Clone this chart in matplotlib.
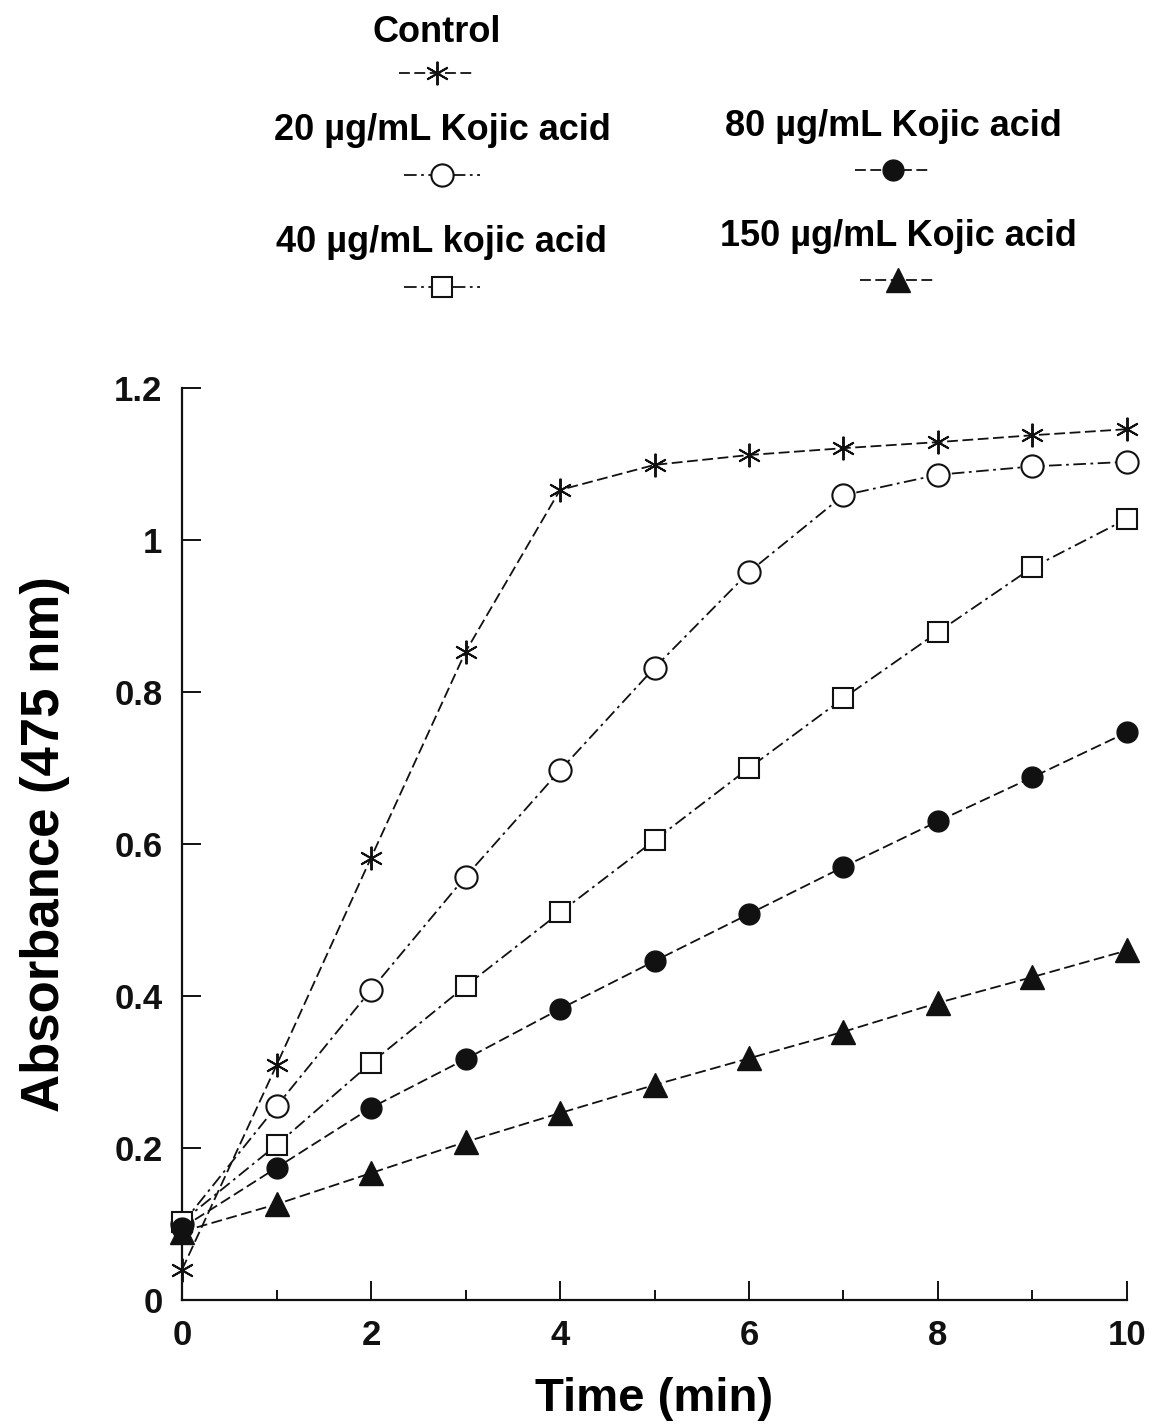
import matplotlib
matplotlib.use("Agg")
import matplotlib.pyplot as plt
from matplotlib.lines import Line2D
from matplotlib.ticker import MultipleLocator

# Time points (min) and absorbance readings at 475 nm
time_min = [0, 1, 2, 3, 4, 5, 6, 7, 8, 9, 10]
control = [0.04, 0.309, 0.582, 0.853, 1.066, 1.099, 1.112, 1.121, 1.129, 1.138, 1.146]
kojic_20 = [0.10, 0.255, 0.408, 0.557, 0.697, 0.832, 0.958, 1.059, 1.086, 1.097, 1.103]
kojic_40 = [0.103, 0.204, 0.312, 0.413, 0.510, 0.605, 0.700, 0.792, 0.879, 0.964, 1.028]
kojic_80 = [0.095, 0.174, 0.253, 0.317, 0.383, 0.446, 0.508, 0.570, 0.630, 0.688, 0.747]
kojic_150 = [0.09, 0.126, 0.167, 0.208, 0.246, 0.283, 0.318, 0.353, 0.391, 0.425, 0.460]

labels = ["Control", "20 µg/mL Kojic acid", "40 µg/mL kojic acid",
          "80 µg/mL Kojic acid", "150 µg/mL Kojic acid"]

x_ticks = [0, 2, 4, 6, 8, 10]
y_ticks = [0, 0.2, 0.4, 0.6, 0.8, 1.0, 1.2]
y_tick_labels = ["0", "0.2", "0.4", "0.6", "0.8", "1", "1.2"]

plt.rcParams["font.family"] = ["Liberation Sans", "DejaVu Sans"]
plt.rcParams["font.weight"] = "bold"

fig = plt.figure(figsize=(11.53, 14.27), dpi=100)
ax = fig.add_axes([0.1579, 0.0890, 0.8195, 0.639])

dash = (0, (6, 2.5))
dashdot = (0, (7, 2.5, 1.5, 2.5))
ink = "#111111"

series = [
    (control, dict(marker=(6, 2, 0), markersize=17, markerfacecolor="none",
                   markeredgewidth=1.4, linestyle=dash)),
    (kojic_20, dict(marker="o", markersize=16, markerfacecolor="white",
                    markeredgewidth=1.5, linestyle=dashdot)),
    (kojic_40, dict(marker="s", markersize=14, markerfacecolor="white",
                    markeredgewidth=1.5, linestyle=dashdot)),
    (kojic_80, dict(marker="o", markersize=15, markerfacecolor=ink,
                    markeredgewidth=1.0, linestyle=dash)),
    (kojic_150, dict(marker="^", markersize=17, markerfacecolor=ink,
                     markeredgewidth=1.0, linestyle=dash)),
]

for values, style in series:
    ax.plot(time_min, values, color=ink, linewidth=1.3, markeredgecolor=ink,
            clip_on=False, zorder=3, **style)

ax.set_xlim(0, 10)
ax.set_ylim(0, 1.2)
ax.spines["top"].set_visible(False)
ax.spines["right"].set_visible(False)
for s in ("left", "bottom"):
    ax.spines[s].set_linewidth(1.6)
    ax.spines[s].set_color(ink)

ax.set_xticks(x_ticks)
ax.xaxis.set_minor_locator(MultipleLocator(1))
ax.set_yticks(y_ticks)
ax.set_yticklabels(y_tick_labels)
ax.tick_params(axis="both", which="major", direction="in", length=14, width=1.4,
               colors=ink, pad=14)
ax.tick_params(axis="x", which="minor", direction="in", length=7, width=1.4, colors=ink)
for lab in ax.get_xticklabels() + ax.get_yticklabels():
    lab.set_fontsize(25)
    lab.set_fontweight("bold")

ax.set_xlabel("Time (min)", fontsize=34, fontweight="bold", labelpad=18)
ax.set_ylabel("Absorbance (475 nm)", fontsize=38, fontweight="bold", labelpad=32)

# Legend block above the plot: caption over a line sample with its marker
W, H = 1153, 1427
legend_items = [
    (labels[0], 437, 32, 73, series[0][1]),
    (labels[1], 442, 130, 175, series[1][1]),
    (labels[2], 442, 242, 287, series[2][1]),
    (labels[3], 893, 127, 170, series[3][1]),
    (labels[4], 898, 236, 280, series[4][1]),
]
for text, cx, ty, my, style in legend_items:
    fig.text(cx / W, 1 - ty / H, text, ha="center", va="center", fontsize=26,
             fontweight="bold")
    sample = Line2D([(cx - 38) / W, cx / W, (cx + 38) / W], [1 - my / H] * 3,
                    transform=fig.transFigure, color=ink, linewidth=1.3,
                    markeredgecolor=ink, markevery=[1], **style)
    fig.add_artist(sample)

fig.savefig("out.png", dpi=100, facecolor="white")
